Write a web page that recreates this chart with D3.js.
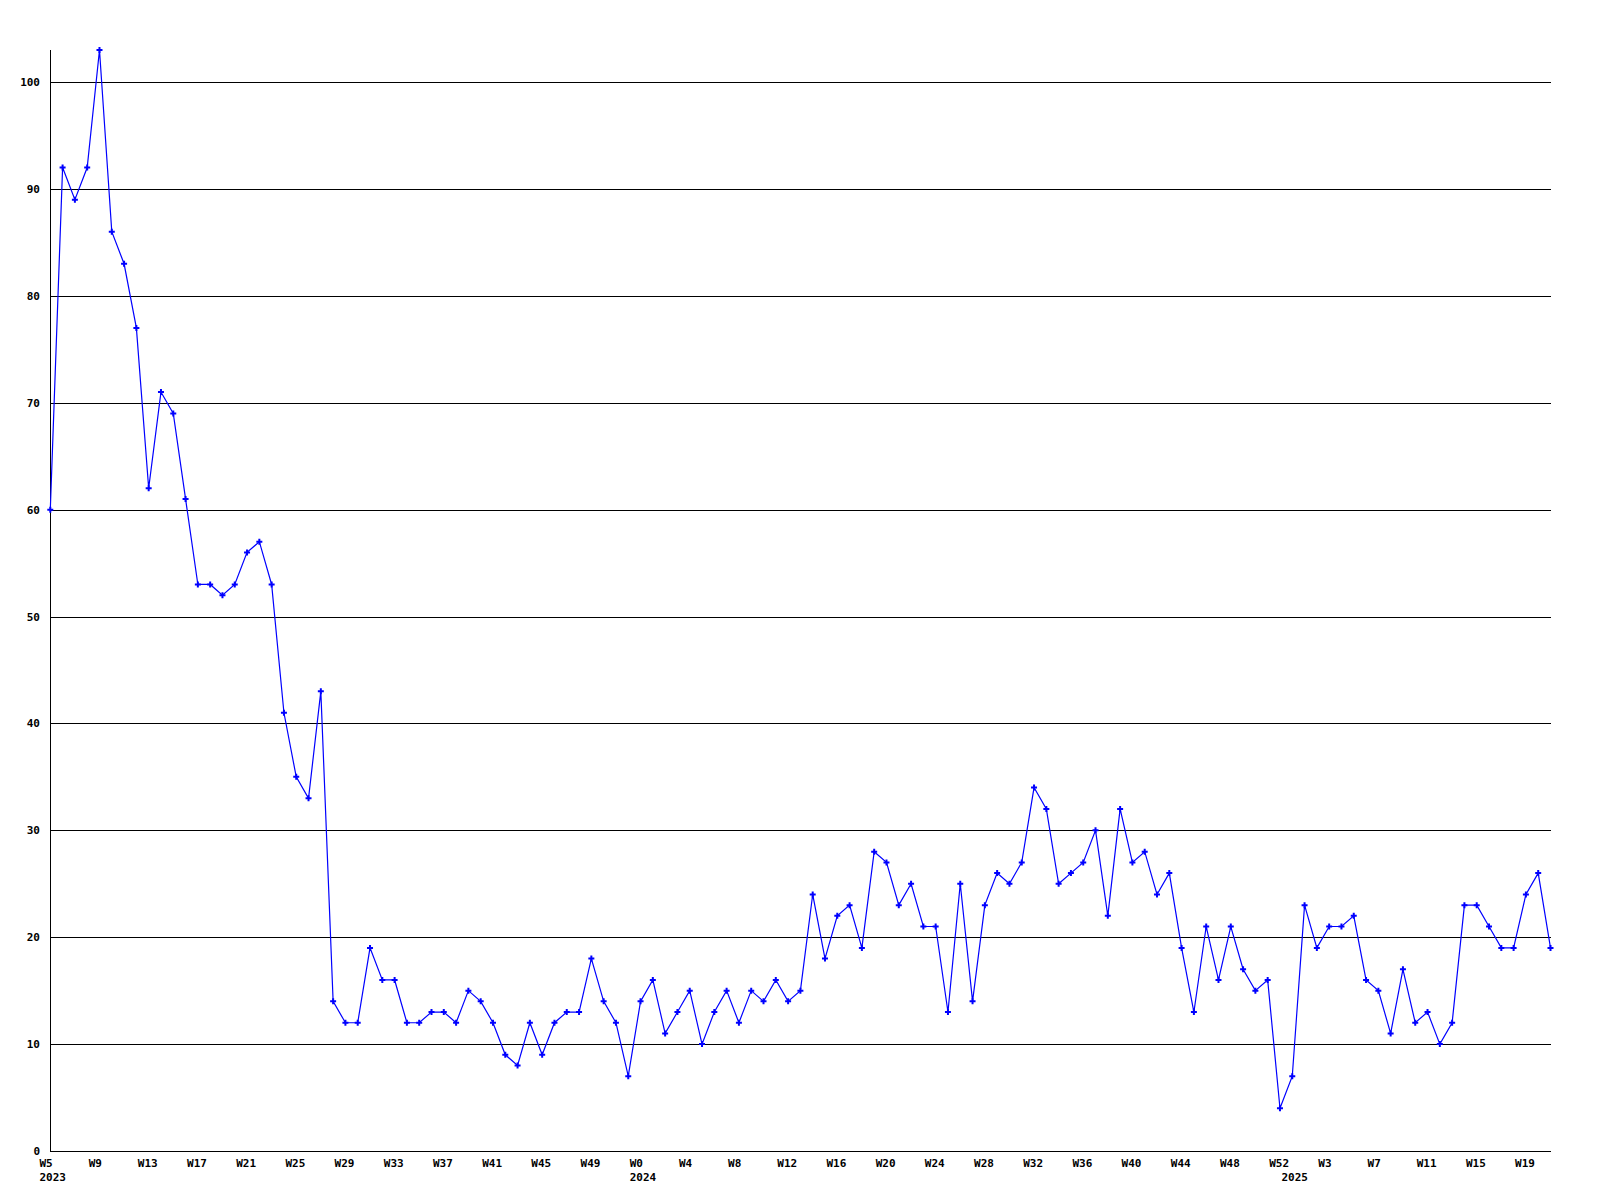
<!DOCTYPE html>
<html>
<head>
<meta charset="utf-8">
<script src="https://cdn.jsdelivr.net/npm/d3@7"></script>
<style>
  html, body { margin: 0; padding: 0; background: #fff; }
  svg text { font-family: "DejaVu Sans Mono", "Liberation Mono", monospace; font-weight: bold; font-size: 11px; fill: #000; }
</style>
</head>
<body>
<svg id="chart" width="1600" height="1200"></svg>
<script>
// ---- data ----
const years = [2023, 2024, 2025];
const weeks2023 = d3.range(5, 53);   // W5 .. W52
const weeks2024 = d3.range(0, 53);   // W0 .. W52
const weeks2025 = d3.range(0, 22);   // W0 .. W21

const values2023 = [60, 92, 89, 92, 103, 86, 83, 77, 62, 71, 69, 61, 53, 53, 52, 53, 56, 57, 53, 41,
  35, 33, 43, 14, 12, 12, 19, 16, 16, 12, 12, 13, 13, 12, 15, 14, 12, 9, 8, 12,
  9, 12, 13, 13, 18, 14, 12, 7];
const values2024 = [14, 16, 11, 13, 15, 10, 13, 15, 12, 15, 14, 16, 14, 15, 24, 18, 22, 23, 19, 28,
  27, 23, 25, 21, 21, 13, 25, 14, 23, 26, 25, 27, 34, 32, 25, 26, 27, 30, 22, 32,
  27, 28, 24, 26, 19, 13, 21, 16, 21, 17, 15, 16, 4];
const values2025 = [7, 23, 19, 21, 21, 22, 16, 15, 11, 17, 12, 13, 10, 12, 23, 23, 21, 19, 19, 24,
  26, 19];

const yTicks = [0, 10, 20, 30, 40, 50, 60, 70, 80, 90, 100];
const labelEvery = 4;

(function () {
  // ---- build table ----
  const rows = [];
  [[2023, weeks2023, values2023], [2024, weeks2024, values2024], [2025, weeks2025, values2025]]
    .forEach(([yr, wks, vals]) => wks.forEach((w, k) => rows.push({ year: yr, week: w, value: vals[k], first: k === 0 })));
  rows.forEach((d, i) => d.i = i);

  // ---- layout ----
  const mLeft = 50.3, mRight = 1550.5, mTop = 50, mBottom = 1151;
  const svg = d3.select("#chart");

  const x = d3.scaleLinear().domain([0, rows.length - 1]).range([mLeft, mRight]);
  const y = d3.scaleLinear().domain([0, d3.max(rows, d => d.value)]).range([mBottom, mTop]);

  // grid lines
  svg.append("g").selectAll("line").data(yTicks.filter(t => t > 0)).join("line")
    .attr("x1", 50).attr("x2", 1551)
    .attr("y1", d => Math.round(y(d)) + 0.5).attr("y2", d => Math.round(y(d)) + 0.5)
    .attr("stroke", "#000").attr("stroke-width", 1).attr("shape-rendering", "crispEdges");

  // axes lines
  svg.append("line").attr("x1", 50.5).attr("x2", 50.5)
    .attr("y1", mTop).attr("y2", Math.round(mBottom) + 0.5)
    .attr("stroke", "#000").attr("shape-rendering", "crispEdges");
  svg.append("line").attr("x1", 50).attr("x2", 1551)
    .attr("y1", Math.round(mBottom) + 0.5).attr("y2", Math.round(mBottom) + 0.5)
    .attr("stroke", "#000").attr("shape-rendering", "crispEdges");

  // y labels
  svg.append("g").selectAll("text").data(yTicks).join("text")
    .attr("x", 40).attr("y", d => y(d) + 4)
    .attr("text-anchor", "end")
    .text(d => d);

  // x labels (every 4th point)
  svg.append("g").selectAll("text").data(rows.filter(d => d.i % labelEvery === 0)).join("text")
    .attr("x", d => x(d.i) - 10.8).attr("y", 1166.5)
    .text(d => "W" + d.week);

  // year labels
  svg.append("g").selectAll("text").data(rows.filter(d => d.first)).join("text")
    .attr("x", d => x(d.i) - 10.8).attr("y", 1180.5)
    .text(d => d.year);

  // line
  const line = d3.line().x(d => x(d.i)).y(d => y(d.value));
  svg.append("path").datum(rows)
    .attr("d", line)
    .attr("fill", "none").attr("stroke", "#0000ff").attr("stroke-width", 1.2);

  // markers
  svg.append("g").selectAll("path").data(rows).join("path")
    .attr("transform", d => `translate(${x(d.i)},${y(d.value)})`)
    .attr("d", d3.symbol(d3.symbolCross, 20))
    .attr("fill", "#0000ff");
})();
</script>
</body>
</html>
